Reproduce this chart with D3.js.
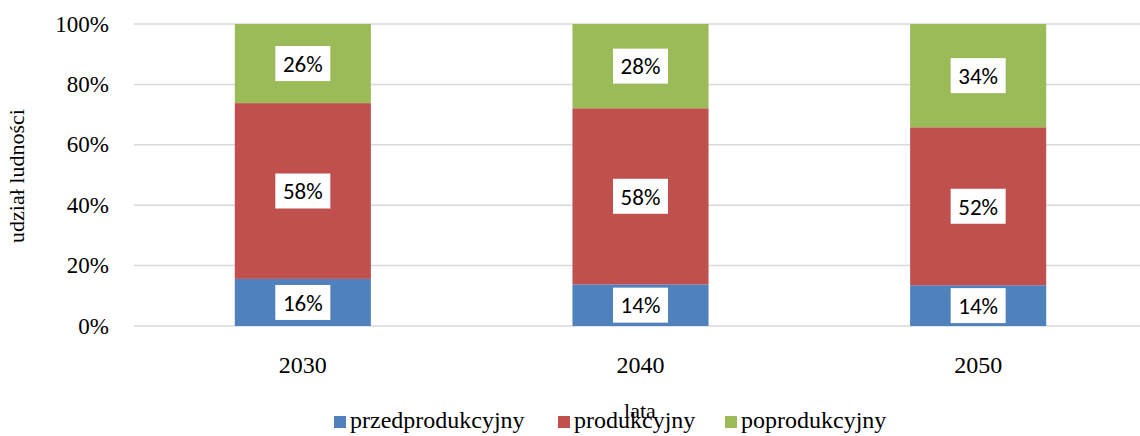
<!DOCTYPE html>
<html>
<head>
<meta charset="utf-8">
<script src="https://cdn.jsdelivr.net/npm/d3@7"></script>
<style>
  body { margin: 0; background: #fff; }
  svg { display: block; }
</style>
</head>
<body>
<script>
(function () {
// chart data
var years = ["2030", "2040", "2050"];
var seriesNames = ["przedprodukcyjny", "produkcyjny", "poprodukcyjny"];
var przed = [15.6, 13.8, 13.5];
var prod = [58.2, 58.3, 52.3];
var popr = [26.2, 27.9, 34.2];
var yTicks = [0, 20, 40, 60, 80, 100];
var colors = ["#4F81BD", "#C0504D", "#9BBB59"];

var width = 1140, height = 436;
var plotLeft = 134, plotRight = 1147, plotTop = 24, plotBottom = 326;
var serif = "'Liberation Serif', 'Times New Roman', serif";

var svg = d3.select("body").append("svg")
    .attr("width", width)
    .attr("height", height);

var x = d3.scaleBand()
    .domain(years)
    .range([plotLeft, plotRight])
    .paddingInner(0.597)
    .paddingOuter(0.2985);

var y = d3.scaleLinear()
    .domain([0, 100])
    .range([plotBottom, plotTop]);

var rows = years.map(function (yr, i) {
    return { year: yr, przed: przed[i], prod: prod[i], popr: popr[i] };
});
var layers = d3.stack().keys(["przed", "prod", "popr"])(rows);

// gridlines
svg.append("g")
    .selectAll("line")
    .data(yTicks)
    .enter().append("line")
    .attr("x1", plotLeft)
    .attr("x2", width)
    .attr("y1", function (d) { return y(d); })
    .attr("y2", function (d) { return y(d); })
    .attr("stroke", "#d9d9d9")
    .attr("stroke-width", 1.5);

// y tick labels
svg.append("g")
    .selectAll("text")
    .data(yTicks)
    .enter().append("text")
    .attr("x", 109)
    .attr("y", function (d) { return y(d); })
    .attr("dy", "0.33em")
    .attr("text-anchor", "end")
    .style("font-family", serif)
    .style("font-size", "23px")
    .text(function (d) { return d + "%"; });

// bars
var groups = svg.selectAll("g.layer")
    .data(layers)
    .enter().append("g")
    .attr("class", "layer")
    .attr("fill", function (d, i) { return colors[i]; });

groups.selectAll("rect")
    .data(function (d) { return d; })
    .enter().append("rect")
    .attr("x", function (d) { return x(d.data.year); })
    .attr("width", x.bandwidth())
    .attr("y", function (d) { return y(d[1]); })
    .attr("height", function (d) { return y(d[0]) - y(d[1]); });

// value labels
var labels = svg.append("g");
layers.forEach(function (layer) {
    layer.forEach(function (d) {
        var cx = x(d.data.year) + x.bandwidth() / 2;
        var cy = (y(d[0]) + y(d[1])) / 2;
        labels.append("rect")
            .attr("x", cx - 27.5)
            .attr("y", cy - 17.5)
            .attr("width", 55)
            .attr("height", 35)
            .attr("fill", "#fff");
        labels.append("text")
            .attr("x", cx)
            .attr("y", cy)
            .attr("dy", "0.36em")
            .attr("text-anchor", "middle")
            .style("font-family", "Carlito, 'Open Sans', sans-serif")
            .style("font-size", "23px")
            .text(Math.round(d[1] - d[0]) + "%");
    });
});

// x tick labels
svg.append("g")
    .selectAll("text")
    .data(years)
    .enter().append("text")
    .attr("x", function (d) { return x(d) + x.bandwidth() / 2; })
    .attr("y", 373)
    .attr("text-anchor", "middle")
    .style("font-family", serif)
    .style("font-size", "24px")
    .text(function (d) { return d; });

// axis titles
svg.append("text")
    .attr("transform", "translate(24,176) rotate(-90)")
    .attr("text-anchor", "middle")
    .style("font-family", serif)
    .style("font-size", "22px")
    .text("udział ludności");

svg.append("text")
    .attr("x", 640)
    .attr("y", 418)
    .attr("text-anchor", "middle")
    .style("font-family", serif)
    .style("font-size", "22px")
    .text("lata");

// legend
var legendX = [334, 558, 725];
var legend = svg.append("g");
seriesNames.forEach(function (name, i) {
    legend.append("rect")
        .attr("x", legendX[i])
        .attr("y", 416)
        .attr("width", 12)
        .attr("height", 12)
        .attr("fill", colors[i]);
    legend.append("text")
        .attr("x", legendX[i] + 16)
        .attr("y", 428)
        .style("font-family", serif)
        .style("font-size", "24px")
        .text(name);
});
})();
</script>
</body>
</html>
